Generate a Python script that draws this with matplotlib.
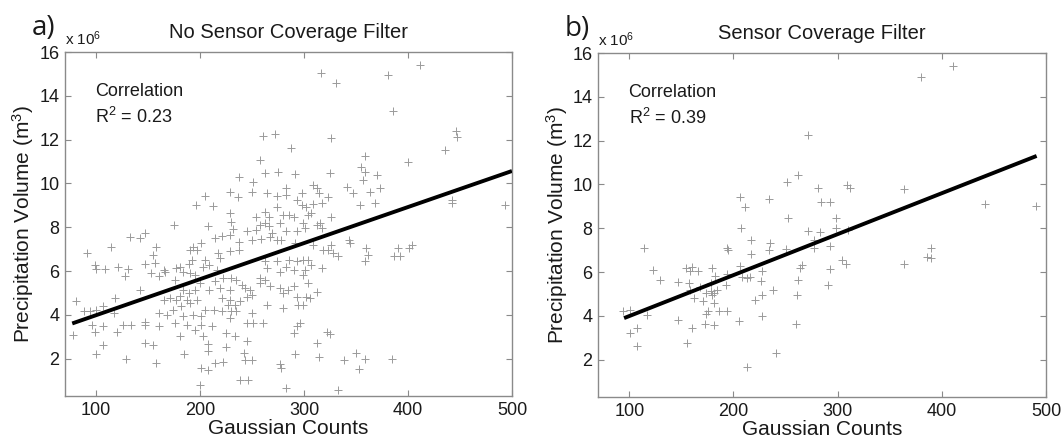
import matplotlib

matplotlib.use("Agg")

import matplotlib.pyplot as plt

plt.rcParams["font.family"] = ["Liberation Sans", "DejaVu Sans"]
plt.rcParams["mathtext.fontset"] = "custom"
plt.rcParams["mathtext.rm"] = "Liberation Sans"
plt.rcParams["mathtext.it"] = "Liberation Sans:italic"

MARKER_COLOR = "#9a9a9a"
SPINE_COLOR = "#8a8a8a"
TEXT_COLOR = "#1a1a1a"

# ---- panel a: no sensor coverage filter (volume in 10^6 m^3) ----
a_counts = [
    205, 229, 236, 250, 264, 274, 283, 293, 196, 212, 229, 254, 262, 266, 274, 280,
    286, 290, 175, 208, 230, 232, 245, 254, 258, 262, 266, 269, 277, 283, 293, 214,
    221, 229, 237, 250, 259, 267, 274, 278, 291, 201, 193, 190, 197, 158, 217, 219,
    229, 237, 205, 192, 189, 181, 177, 155, 157, 165, 166, 160, 153, 176, 184, 190,
    195, 203, 209, 216, 222, 230, 264, 262, 283, 286, 290, 293, 274, 262, 277, 258,
    235, 214, 200, 195, 189, 184, 181, 177, 171, 165, 182, 174, 168, 187, 190, 197,
    209, 219, 229, 243, 240, 248, 250, 258, 267, 277, 290, 285, 229, 227, 238, 245,
    221, 234, 221, 213, 205, 193, 201, 184, 160, 160, 176, 187, 201, 195, 203, 211,
    229, 230, 235, 250, 245, 251, 261, 264, 280, 280, 293, 294, 293, 290, 225, 181,
    234,
    325, 355, 359, 370, 309, 312, 314, 298, 323, 341, 347, 354, 357, 363, 368, 298,
    302, 309, 317, 304, 307, 312, 315, 317, 299, 326, 301, 343, 309, 318, 323, 326,
    328, 333, 299, 304, 307, 317, 301, 360, 362, 359, 299, 304, 373, 344,
    261, 258, 262, 237, 251, 316, 331, 381, 412, 386, 446, 447, 436, 400, 272, 287,
    326, 359, 275, 291, 283,
    147, 142, 133, 114, 91, 147, 99, 100, 109, 121, 131, 128, 142, 118, 107, 81,
    88, 94, 100, 117, 147, 147, 107, 99, 96, 78, 120, 126, 134, 107, 147, 100, 129,
    155, 185, 208, 208, 225, 245, 158, 201, 208, 214, 222, 242, 243, 250, 238, 246,
    200, 291, 277, 278,
    312, 302, 306, 299, 296, 322, 325, 312, 314, 338, 350, 353, 359, 283, 333,
    442, 442, 493, 387, 392, 390, 401, 404, 385,
]
a_volume = [
    9.43, 9.59, 9.37, 9.59, 9.56, 9.43, 9.48, 9.25, 9.02, 8.98, 8.64, 8.49, 8.72, 8.49, 8.95, 8.57,
    8.57, 8.49, 8.11, 8.04, 8.26, 7.91, 7.81, 7.88, 8.11, 8.19, 8.04, 7.73, 8.19, 7.81, 7.81, 7.50,
    7.61, 7.66, 7.35, 7.43, 7.46, 7.58, 7.43, 7.43, 7.28, 7.28, 7.09, 6.97, 6.97, 7.12, 6.82, 6.59,
    6.90, 6.97, 6.52, 6.52, 6.33, 6.18, 6.14, 6.74, 6.37, 6.06, 5.98, 5.76, 5.91, 5.60, 5.98, 5.91,
    5.83, 6.21, 6.29, 6.06, 5.68, 5.68, 6.14, 6.44, 6.21, 6.52, 6.06, 6.44, 6.44, 5.60, 5.98, 5.68,
    5.60, 5.53, 5.45, 5.15, 4.99, 5.15, 4.88, 4.69, 4.77, 4.69, 4.39, 4.24, 4.01, 4.69, 4.54, 4.69,
    5.15, 5.22, 5.15, 5.22, 5.38, 5.15, 4.92, 5.45, 5.30, 5.22, 5.30, 5.15, 4.69, 4.46, 4.62, 4.84,
    4.77, 4.46, 4.16, 4.24, 4.24, 4.01, 3.93, 3.93, 4.08, 3.48, 3.63, 3.55, 3.55, 3.33, 3.02, 3.48,
    3.86, 4.16, 4.16, 4.09, 3.63, 3.63, 3.63, 4.46, 4.31, 4.99, 4.84, 4.46, 3.48, 3.17, 3.17, 3.02,
    3.02,
    10.50, 10.74, 10.54, 10.39, 9.94, 9.78, 9.56, 9.56, 9.40, 9.86, 9.56, 9.03, 10.16, 9.63, 9.10, 9.03,
    8.95, 9.07, 9.10, 8.57, 8.64, 8.11, 8.19, 7.96, 8.19, 8.49, 7.96, 7.43, 7.20, 6.97, 6.97, 7.20,
    6.82, 6.67, 6.52, 6.52, 6.29, 6.14, 6.06, 7.05, 6.74, 6.44, 5.83, 5.45, 9.79, 7.30,
    12.17, 11.07, 10.47, 10.29, 10.09, 15.03, 14.57, 14.95, 15.41, 13.31, 12.40, 12.11, 11.53, 10.97, 12.26, 11.61,
    12.09, 11.26, 10.51, 10.42, 9.80,
    7.76, 7.51, 7.58, 7.09, 6.82, 6.34, 6.27, 6.12, 6.10, 6.20, 6.10, 5.78, 5.15, 4.77, 4.40, 4.65,
    4.17, 4.16, 4.24, 4.09, 3.70, 3.55, 3.48, 3.24, 3.56, 3.10, 3.22, 3.56, 3.56, 2.64, 2.72, 2.22, 1.99,
    2.64, 2.22, 2.66, 2.35, 2.56, 2.79, 1.80, 1.60, 1.49, 1.80, 1.87, 2.28, 1.96, 1.93, 1.01, 1.05,
    0.82, 2.22, 1.76, 1.58,
    5.07, 4.84, 4.77, 4.45, 3.63, 3.20, 3.14, 2.72, 2.06, 1.93, 2.26, 1.55, 2.00, 0.67, 0.56,
    9.25, 9.10, 9.00, 6.67, 6.67, 7.04, 7.04, 7.20, 1.98,
]
a_fit_x = [77, 500]
a_fit_slope = 0.01645
a_fit_intercept = 2.345

# ---- panel b: sensor coverage filter ----
b_counts = [
    262, 251, 281, 309, 312, 284, 293, 206, 211, 234, 252, 298, 207, 298, 272, 283,
    310, 217, 235, 277, 194, 195, 234, 250, 293, 217, 304, 308, 179, 206, 227, 264,
    266, 293, 194, 208, 213, 216, 226, 262, 193, 178, 181, 179, 174, 291, 238, 227,
    261, 221, 171, 181, 176, 174, 194, 227, 205, 173, 181, 260, 277, 182, 178, 186,
    184,
    380, 411, 272, 114, 123, 129, 154, 160, 158, 166, 147, 157, 168, 158, 162, 117,
    94, 101, 147, 160, 101, 107, 107, 155, 213, 241, 364, 441, 490, 364, 386, 390, 390,
]
b_volume = [
    10.44, 10.09, 9.83, 9.98, 9.83, 9.22, 9.22, 9.45, 8.96, 9.33, 8.46, 8.46, 8.01, 8.01, 7.86, 7.81,
    7.93, 7.48, 7.35, 7.48, 7.10, 7.02, 6.99, 7.06, 7.20, 6.84, 6.56, 6.38, 6.18, 6.29, 6.03, 6.18,
    6.34, 6.14, 5.92, 5.77, 5.73, 5.77, 5.58, 5.65, 5.42, 5.12, 5.04, 4.97, 5.04, 5.42, 5.17, 4.97,
    4.97, 4.74, 4.67, 4.59, 4.21, 4.10, 4.21, 4.01, 3.75, 3.65, 3.60, 3.63, 7.09, 5.80, 5.50, 4.21,
    5.20,
    14.92, 15.41, 12.26, 7.09, 6.10, 5.65, 6.18, 6.25, 6.03, 6.03, 5.57, 5.50, 5.30, 5.20, 4.80, 4.05,
    4.21, 4.29, 3.80, 3.45, 3.22, 3.45, 2.61, 2.76, 1.67, 2.33, 9.80, 9.10, 9.03, 6.38, 6.68, 6.64, 7.09,
]
b_fit_x = [95, 491]
b_fit_slope = 0.01869
b_fit_intercept = 2.125

x_ticks = [100, 200, 300, 400, 500]
y_ticks = [2, 4, 6, 8, 10, 12, 14, 16]

fig = plt.figure(figsize=(10.63, 4.41), dpi=100)
ax_a = fig.add_axes([0.0611, 0.1020, 0.4205, 0.7800])
ax_b = fig.add_axes([0.5626, 0.0998, 0.4214, 0.7800])

panels = [
    (ax_a, a_counts, a_volume, a_fit_x, a_fit_slope, a_fit_intercept,
     "a)", "No Sensor Coverage Filter", "0.23"),
    (ax_b, b_counts, b_volume, b_fit_x, b_fit_slope, b_fit_intercept,
     "b)", "Sensor Coverage Filter", "0.39"),
]

for ax, xs, ys, fit_x, slope, intercept, tag, title, r2 in panels:
    ax.plot(xs, ys, linestyle="none", marker="+", markersize=6,
            markeredgewidth=0.7, color=MARKER_COLOR, zorder=2)
    fit_y = [slope * v + intercept for v in fit_x]
    ax.plot(fit_x, fit_y, color="black", linewidth=2.8, solid_capstyle="butt", zorder=3)

    ax.set_xlim(70, 500)
    ax.set_ylim(0.3, 16)
    ax.set_xticks(x_ticks)
    ax.set_yticks(y_ticks)
    ax.tick_params(direction="in", length=4, width=0.8, color=SPINE_COLOR,
                   top=True, right=True, labelsize=13, labelcolor=TEXT_COLOR, pad=4)
    for spine in ax.spines.values():
        spine.set_color(SPINE_COLOR)
        spine.set_linewidth(1.0)

    ax.set_xlabel("Gaussian Counts", fontsize=15, color=TEXT_COLOR, labelpad=0)
    ax.set_ylabel("Precipitation Volume (m$^3$)", fontsize=15, color=TEXT_COLOR, labelpad=2)
    ax.set_title(title, fontsize=14.5, color=TEXT_COLOR, pad=10)

    ax.text(0.0, 1.012, "x 10$^{6}$", transform=ax.transAxes, fontsize=11,
            ha="left", va="bottom", color=TEXT_COLOR)
    ax.text(0.068, 0.885, "Correlation", transform=ax.transAxes, fontsize=13,
            ha="left", va="center", color=TEXT_COLOR)
    ax.text(0.068, 0.81, f"R$^2$ = {r2}", transform=ax.transAxes, fontsize=13,
            ha="left", va="center", color=TEXT_COLOR)
    ax.text(-0.075, 1.07, tag, transform=ax.transAxes, fontsize=20,
            family=["Open Sans", "DejaVu Sans"], ha="left", va="center", color=TEXT_COLOR)

fig.savefig("out.png", dpi=100)
plt.close(fig)
